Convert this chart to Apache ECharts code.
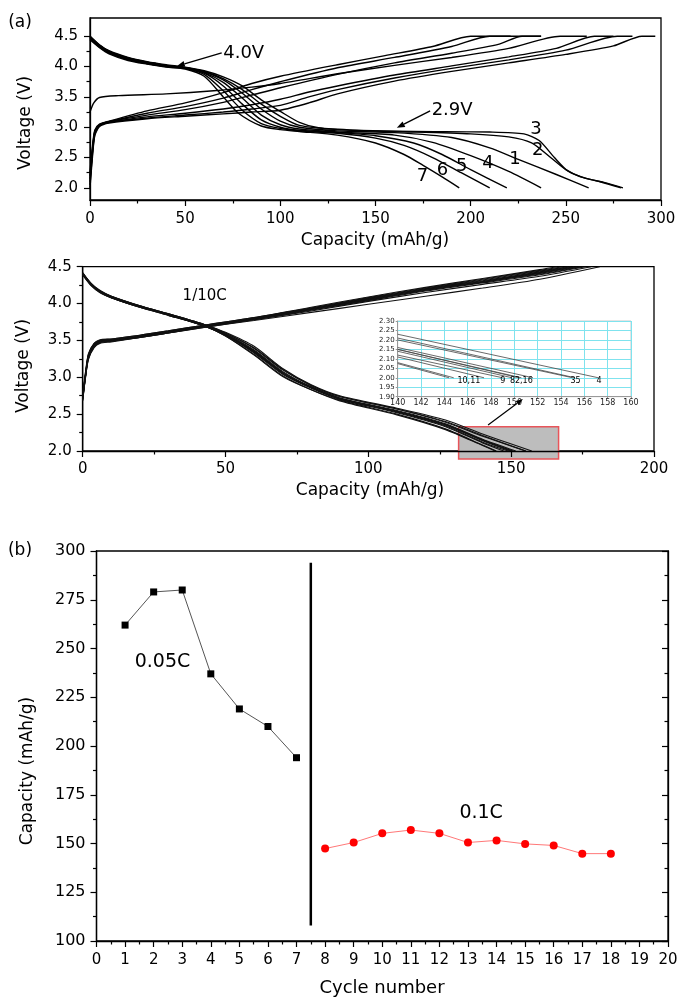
<!DOCTYPE html>
<html><head><meta charset="utf-8">
<script src="https://cdn.jsdelivr.net/npm/echarts@6/dist/echarts.min.js"></script>
<style>html,body{margin:0;padding:0;background:#fff}#c{width:678px;height:997px}</style>
</head><body><div id="c"></div>
<script>
// ---------- Panel (a) top: discharge curves, cycles 1-7 [capacity, voltage] ----------
const p1Dis1 = [[0,4.5],[5,4.35],[10,4.25],[20,4.14],[30,4.07],[40,4.02],[50,3.98],[60,3.91],[70,3.78],[80,3.56],[90,3.3],[100,3.1],[110,3.0],[130,2.94],[160,2.91],[190,2.83],[210,2.66],[225,2.47],[245,2.22],[262,2.0]];
const p1Dis2 = [[0,4.49],[5,4.35],[10,4.25],[20,4.14],[30,4.07],[40,4.02],[50,3.98],[60,3.92],[70,3.8],[80,3.62],[90,3.38],[100,3.18],[110,3.03],[130,2.96],[160,2.93],[200,2.89],[220,2.84],[232,2.74],[242,2.5],[250,2.3],[258,2.18],[268,2.1],[279,2.0]];
const p1Dis3 = [[0,4.5],[5,4.36],[10,4.26],[20,4.15],[30,4.08],[40,4.03],[50,3.99],[60,3.93],[70,3.83],[80,3.68],[90,3.45],[100,3.26],[110,3.08],[120,2.99],[140,2.95],[170,2.93],[210,2.92],[228,2.89],[236,2.78],[244,2.5],[251,2.28],[260,2.16],[270,2.09],[280,2.0]];
const p1Dis4 = [[0,4.48],[5,4.34],[10,4.24],[20,4.13],[30,4.06],[40,4.01],[50,3.98],[60,3.9],[70,3.74],[80,3.48],[90,3.2],[100,3.04],[110,2.97],[130,2.92],[160,2.87],[180,2.75],[200,2.53],[220,2.27],[237,2.0]];
const p1Dis5 = [[0,4.47],[5,4.33],[10,4.23],[20,4.12],[30,4.05],[40,4.0],[50,3.97],[60,3.89],[70,3.68],[80,3.38],[90,3.12],[100,3.0],[110,2.95],[130,2.91],[150,2.86],[170,2.74],[185,2.55],[200,2.3],[219,2.0]];
const p1Dis6 = [[0,4.46],[5,4.32],[10,4.22],[20,4.11],[30,4.05],[40,4.0],[50,3.97],[60,3.87],[70,3.6],[80,3.28],[90,3.06],[100,2.98],[110,2.94],[130,2.9],[150,2.82],[165,2.7],[180,2.5],[195,2.25],[210,2.0]];
const p1Dis7 = [[0,4.44],[5,4.31],[10,4.21],[20,4.1],[30,4.04],[40,3.99],[50,3.96],[60,3.84],[70,3.5],[78,3.23],[90,3.02],[100,2.96],[110,2.93],[130,2.87],[150,2.74],[165,2.55],[175,2.37],[185,2.18],[194,2.0]];
// ---------- Panel (a) top: charge curves ----------
const p1ChFirst = [[0,3.25],[2,3.4],[5,3.49],[15,3.52],[40,3.55],[65,3.6],[85,3.66],[100,3.72],[130,3.88],[160,4.02],[190,4.15],[220,4.3],[247,4.5],[261,4.5]];
const p1ChA = [[0,2.25],[1,2.6],[2.5,2.95],[5,3.05],[10,3.1],[30,3.27],[50,3.4],[70,3.57],[85,3.72],[100,3.84],[130,4.03],[155,4.18],[180,4.33],[200,4.5],[221,4.5]];
const p1ChB = [[0,2.2],[1,2.55],[2.5,2.93],[5,3.04],[10,3.09],[30,3.23],[50,3.34],[70,3.48],[85,3.62],[100,3.75],[130,3.98],[160,4.15],[190,4.33],[210,4.5],[237,4.5]];
const p1ChC = [[0,2.15],[1,2.5],[2.5,2.92],[5,3.04],[10,3.09],[30,3.2],[50,3.29],[70,3.41],[85,3.53],[100,3.65],[130,3.87],[160,4.06],[190,4.22],[215,4.37],[227,4.5],[237,4.5]];
const p1ChE = [[0,2.1],[1,2.5],[2.5,2.9],[5,3.03],[10,3.08],[30,3.17],[50,3.23],[70,3.3],[85,3.37],[100,3.46],[115,3.58],[130,3.68],[160,3.86],[190,4.01],[220,4.16],[245,4.3],[265,4.5],[275,4.5]];
const p1ChF = [[0,2.05],[1,2.45],[2.5,2.88],[5,3.02],[10,3.08],[30,3.15],[50,3.2],[70,3.25],[85,3.3],[100,3.36],[115,3.5],[130,3.62],[160,3.81],[190,3.97],[220,4.11],[250,4.27],[277,4.5],[285,4.5]];
const p1ChG = [[0,2.0],[1,2.4],[2.5,2.86],[5,3.01],[10,3.07],[30,3.14],[50,3.18],[70,3.22],[85,3.25],[100,3.28],[115,3.4],[130,3.55],[160,3.76],[190,3.92],[220,4.06],[250,4.2],[275,4.34],[290,4.5],[297,4.5]];
const p1VTicks = [2.0,2.5,3.0,3.5,4.0,4.5];
const p1VMinor = [2.25,2.75,3.25,3.75,4.25];

// ---------- Panel (a) bottom: 1/10C charge curves ----------
const p2Ch1 = [[0,2.78],[1,3.08],[2,3.32],[4,3.46],[6,3.51],[10,3.52],[20,3.57],[30,3.63],[43,3.71],[60,3.81],[80,3.95],[100,4.09],[120,4.22],[140,4.34],[160,4.46],[166,4.5]];
const p2Ch2 = [[0,2.76],[1,3.06],[2,3.31],[4,3.46],[6,3.5],[10,3.52],[20,3.57],[30,3.63],[43,3.71],[60,3.81],[80,3.94],[100,4.08],[120,4.21],[140,4.33],[160,4.45],[168,4.5]];
const p2Ch3 = [[0,2.74],[1,3.05],[2,3.3],[4,3.45],[6,3.5],[10,3.51],[20,3.56],[30,3.62],[43,3.7],[60,3.8],[80,3.94],[100,4.07],[120,4.2],[140,4.32],[160,4.44],[170,4.5]];
const p2Ch4 = [[0,2.75],[1,3.04],[2,3.29],[4,3.44],[6,3.49],[10,3.51],[20,3.56],[30,3.62],[43,3.7],[60,3.8],[80,3.93],[100,4.07],[120,4.2],[140,4.31],[160,4.43],[171,4.5]];
const p2Ch5 = [[0,2.73],[1,3.04],[2,3.28],[4,3.44],[6,3.49],[10,3.5],[20,3.55],[30,3.61],[43,3.7],[60,3.8],[80,3.93],[100,4.06],[120,4.19],[140,4.3],[160,4.42],[172,4.5]];
const p2Ch6 = [[0,2.72],[1,3.03],[2,3.28],[4,3.43],[6,3.49],[10,3.5],[20,3.55],[30,3.61],[43,3.69],[60,3.79],[80,3.92],[100,4.06],[120,4.19],[140,4.3],[160,4.42],[173,4.5]];
const p2Ch7 = [[0,2.71],[1,3.02],[2,3.27],[4,3.43],[6,3.48],[10,3.5],[20,3.55],[30,3.61],[43,3.69],[60,3.79],[80,3.92],[100,4.05],[120,4.18],[140,4.29],[160,4.41],[174,4.5]];
const p2Ch8 = [[0,2.7],[1,3.02],[2,3.27],[4,3.42],[6,3.48],[10,3.5],[20,3.55],[30,3.61],[43,3.69],[60,3.79],[80,3.92],[100,4.05],[120,4.18],[140,4.29],[160,4.4],[175,4.5]];
const p2Ch9 = [[0,2.7],[1,3.01],[2,3.26],[4,3.42],[6,3.47],[10,3.49],[20,3.54],[30,3.6],[43,3.69],[60,3.78],[80,3.91],[100,4.04],[120,4.17],[140,4.28],[160,4.39],[176,4.5]];
const p2Ch10 = [[0,2.69],[1,3.0],[2,3.25],[4,3.41],[6,3.47],[10,3.49],[20,3.54],[30,3.6],[43,3.68],[60,3.78],[80,3.9],[100,4.03],[120,4.15],[140,4.26],[160,4.37],[178,4.5]];
const p2Ch11 = [[0,2.68],[1,3.0],[2,3.24],[4,3.4],[6,3.46],[10,3.48],[20,3.54],[30,3.6],[43,3.68],[60,3.77],[80,3.88],[100,3.99],[120,4.1],[140,4.21],[160,4.33],[181,4.5]];
// ---------- Panel (a) bottom: 1/10C discharge curves ----------
const p2Dis1 = [[0,4.4],[3,4.26],[6,4.16],[10,4.09],[20,3.96],[30,3.85],[43,3.69],[50,3.57],[60,3.33],[70,3.04],[80,2.85],[90,2.7],[110,2.52],[127,2.33],[140,2.11],[147.4,2.0]];
const p2Dis2 = [[0,4.41],[3,4.26],[6,4.17],[10,4.09],[20,3.96],[30,3.85],[43,3.7],[50,3.58],[60,3.35],[70,3.06],[80,2.86],[90,2.71],[110,2.54],[127,2.36],[140,2.15],[150.6,2.0]];
const p2Dis3 = [[0,4.41],[3,4.27],[6,4.17],[10,4.1],[20,3.97],[30,3.86],[43,3.71],[50,3.6],[60,3.39],[70,3.1],[80,2.89],[90,2.74],[110,2.57],[127,2.4],[140,2.21],[155.2,2.0]];
const p2Dis4 = [[0,4.42],[3,4.27],[6,4.18],[10,4.1],[20,3.97],[30,3.86],[43,3.71],[50,3.61],[60,3.42],[70,3.12],[80,2.9],[90,2.75],[110,2.58],[127,2.42],[140,2.23],[157.2,2.0]];
const p2Dis5 = [[0,4.41],[3,4.27],[6,4.17],[10,4.1],[20,3.97],[30,3.86],[43,3.71],[50,3.6],[60,3.4],[70,3.11],[80,2.89],[90,2.74],[110,2.57],[127,2.39],[140,2.2],[155.0,2.0]];
const p2Dis6 = [[0,4.4],[3,4.26],[6,4.16],[10,4.09],[20,3.96],[30,3.85],[43,3.7],[50,3.58],[60,3.36],[70,3.07],[80,2.87],[90,2.72],[110,2.54],[127,2.36],[140,2.15],[150.4,2.0]];
const p2Dis7 = [[0,4.41],[3,4.26],[6,4.17],[10,4.09],[20,3.96],[30,3.85],[43,3.7],[50,3.59],[60,3.37],[70,3.08],[80,2.87],[90,2.72],[110,2.55],[127,2.37],[140,2.16],[151.6,2.0]];
const p2Dis8 = [[0,4.4],[3,4.25],[6,4.16],[10,4.08],[20,3.96],[30,3.85],[43,3.7],[50,3.58],[60,3.35],[70,3.06],[80,2.86],[90,2.71],[110,2.53],[127,2.35],[140,2.14],[149.8,2.0]];
const p2Dis9 = [[0,4.4],[3,4.25],[6,4.16],[10,4.08],[20,3.95],[30,3.85],[43,3.69],[50,3.57],[60,3.34],[70,3.05],[80,2.86],[90,2.71],[110,2.53],[127,2.34],[140,2.12],[149.0,2.0]];
const p2Dis10 = [[0,4.39],[3,4.25],[6,4.15],[10,4.08],[20,3.95],[30,3.84],[43,3.69],[50,3.56],[60,3.3],[70,3.01],[80,2.83],[90,2.69],[110,2.5],[127,2.3],[140,2.08],[144.8,2.0]];
const p2Dis11 = [[0,4.39],[3,4.24],[6,4.15],[10,4.08],[20,3.95],[30,3.84],[43,3.69],[50,3.56],[60,3.31],[70,3.02],[80,2.83],[90,2.68],[110,2.49],[127,2.29],[140,2.075],[144.4,2.0]];

// ---------- Inset: end of discharge, labelled 1..11 ----------
const ins1 = [[140,2.11],[147.4,2.0]];
const ins2 = [[140,2.15],[150.6,2.0]];
const ins3 = [[140,2.21],[155.2,2.0]];
const ins4 = [[140,2.23],[157.2,2.0]];
const ins5 = [[140,2.2],[155.0,2.0]];
const ins6 = [[140,2.15],[150.4,2.0]];
const ins7 = [[140,2.16],[151.6,2.0]];
const ins8 = [[140,2.14],[149.8,2.0]];
const ins9 = [[140,2.12],[149.0,2.0]];
const ins10 = [[140,2.08],[144.8,2.0]];
const ins11 = [[140,2.075],[144.4,2.0]];
const insetLabels = ['10,11','9','82,16','35','4'];
const insetLabelX = [146.1,149.0,150.6,155.25,157.25];
const insetLabelY = [1.983,1.983,1.983,1.983,1.983];

// ---------- Panel (b): capacity vs cycle ----------
const cycles005 = [1,2,3,4,5,6,7];
const cap005 = [262,279,280,237,219,210,194];
const cycles01 = [8,9,10,11,12,13,14,15,16,17,18];
const cap01 = [147.4,150.5,155.2,156.9,155.2,150.5,151.6,149.8,149.0,144.8,144.8];
const dividerX = [7.5,7.5];
const dividerY = [108,294];

// ---------- curve labels ----------
const p1CurveLabels = ['3','2','1','4','5','6','7'];
const p1CurveLabelX = [234.3,235.2,223.3,209.1,195.3,185.2,174.7];
const p1CurveLabelY = [2.97,2.62,2.475,2.41,2.36,2.295,2.19];

const FONT = '"DejaVu Sans", sans-serif';
const K = '#000';
const axLine = {show:true, lineStyle:{color:K, width:1.3}};
const tickSt = {color:K, width:1.2};

function curve(xi, yi, data, w, color, smooth) {
  return {type:'line', xAxisIndex:xi, yAxisIndex:yi, data:data, showSymbol:false, symbol:'none',
    smooth: smooth === false ? false : 0.25, lineStyle:{color:color, width:w},
    silent:true, clip:true, z:2, animation:false};
}

const series = [];
[p1Dis1,p1Dis2,p1Dis3,p1Dis4,p1Dis5,p1Dis6,p1Dis7,p1ChFirst,p1ChA,p1ChB,p1ChC,p1ChE,p1ChF,p1ChG]
  .forEach(d => series.push(curve(0,0,d,1.4,'#000')));
[p2Ch1,p2Ch2,p2Ch3,p2Ch4,p2Ch5,p2Ch6,p2Ch7,p2Ch8,p2Ch9,p2Ch10,p2Ch11,
 p2Dis1,p2Dis2,p2Dis3,p2Dis4,p2Dis5,p2Dis6,p2Dis7,p2Dis8,p2Dis9,p2Dis10,p2Dis11]
  .forEach(d => series.push(curve(1,2,d,1.1,'#111')));
[ins1,ins2,ins3,ins4,ins5,ins6,ins7,ins8,ins9,ins10,ins11]
  .forEach(d => series.push(curve(2,3,d,0.8,'#444',false)));
series.push({type:'line', xAxisIndex:3, yAxisIndex:4, data:cycles005.map((c,i)=>[c,cap005[i]]),
  symbol:'rect', symbolSize:7, itemStyle:{color:'#000'}, lineStyle:{color:'#555', width:1}, z:3});
series.push({type:'line', xAxisIndex:3, yAxisIndex:4, data:cycles01.map((c,i)=>[c,cap01[i]]),
  symbol:'circle', symbolSize:8, itemStyle:{color:'#ff0000'}, lineStyle:{color:'#ff7878', width:1}, z:3});
series.push({type:'line', xAxisIndex:3, yAxisIndex:4, data:dividerX.map((c,i)=>[c,dividerY[i]]),
  symbol:'none', lineStyle:{color:'#000', width:2.5}, z:3});

const noSplit = {show:false};
const option = {
  animation:false,
  backgroundColor:'#fff',
  grid:[
    {left:90, top:18, width:571, height:182, show:true, borderColor:K, borderWidth:1.3, backgroundColor:'transparent', containLabel:false, outerBoundsMode:'none'},
    {left:82.7, top:266.7, width:571.3, height:184.3, show:true, borderColor:K, borderWidth:1.3, backgroundColor:'transparent', containLabel:false, outerBoundsMode:'none'},
    {left:397.7, top:321, width:233.3, height:75.7, show:true, borderColor:'#c8c8c8', borderWidth:1, backgroundColor:'#fff', containLabel:false, outerBoundsMode:'none'},
    {left:96.5, top:551, width:571.5, height:390, show:true, borderColor:K, borderWidth:1.3, backgroundColor:'transparent', containLabel:false, outerBoundsMode:'none'}
  ],
  xAxis:[
    {gridIndex:0, type:'value', min:0, max:300, interval:50, axisLine:axLine,
     axisTick:{show:true, length:6, lineStyle:tickSt}, minorTick:{show:true, splitNumber:2, length:3.5, lineStyle:tickSt},
     splitLine:noSplit, minorSplitLine:noSplit, axisLabel:{fontSize:15, fontFamily:FONT, color:K, margin:12}},
    {gridIndex:1, type:'value', min:0, max:200, interval:50, axisLine:axLine, z:5,
     axisTick:{show:true, length:6, lineStyle:tickSt}, minorTick:{show:true, splitNumber:2, length:3.5, lineStyle:tickSt},
     splitLine:noSplit, minorSplitLine:noSplit, axisLabel:{fontSize:15, fontFamily:FONT, color:K, margin:11}},
    {gridIndex:2, type:'value', min:140, max:160, interval:2, axisLine:{show:true, lineStyle:{color:'#999', width:1}},
     axisTick:{show:true, length:2, lineStyle:{color:'#999'}}, splitLine:{show:true, lineStyle:{color:'#7fe3ee', width:1}},
     axisLabel:{fontSize:8, fontFamily:FONT, color:'#222', margin:2}},
    {gridIndex:3, type:'value', min:0, max:20, interval:1, axisLine:axLine,
     axisTick:{show:true, length:6, lineStyle:tickSt}, minorTick:{show:true, splitNumber:2, length:3.5, lineStyle:tickSt},
     splitLine:noSplit, minorSplitLine:noSplit, axisLabel:{fontSize:15, fontFamily:FONT, color:K, margin:12}}
  ],
  yAxis:[
    {gridIndex:0, type:'value', min:1.8, max:4.8, position:'left', axisLine:axLine,
     axisTick:{show:true, length:6, lineStyle:tickSt, customValues:p1VTicks},
     splitLine:noSplit, axisLabel:{customValues:p1VTicks, formatter:v=>v.toFixed(1), fontSize:15, fontFamily:FONT, color:K, margin:12}},
    {gridIndex:0, type:'value', min:1.8, max:4.8, position:'left', offset:0, axisLine:{show:false},
     axisTick:{show:true, length:3.5, lineStyle:tickSt, customValues:p1VMinor},
     splitLine:noSplit, axisLabel:{show:false}},
    {gridIndex:1, type:'value', min:2.0, max:4.5, interval:0.5, axisLine:axLine,
     axisTick:{show:true, length:6, lineStyle:tickSt}, minorTick:{show:true, splitNumber:2, length:3.5, lineStyle:tickSt},
     splitLine:noSplit, minorSplitLine:noSplit, axisLabel:{formatter:v=>v.toFixed(1), fontSize:15, fontFamily:FONT, color:K, margin:11}},
    {gridIndex:2, type:'value', min:1.9, max:2.3, interval:0.05, axisLine:{show:true, lineStyle:{color:'#999', width:1}},
     axisTick:{show:true, length:2, lineStyle:{color:'#999'}}, splitLine:{show:true, lineStyle:{color:'#7fe3ee', width:1}},
     axisLabel:{formatter:v=>v.toFixed(2), fontSize:7, fontFamily:FONT, color:'#222', margin:3}},
    {gridIndex:3, type:'value', min:100, max:300, interval:25, position:'left', axisLine:axLine,
     axisTick:{show:true, length:6, lineStyle:tickSt}, minorTick:{show:true, splitNumber:2, length:3.5, lineStyle:tickSt},
     splitLine:noSplit, minorSplitLine:noSplit, axisLabel:{fontSize:16, fontFamily:FONT, color:K, margin:11}},
    {gridIndex:3, type:'value', min:100, max:300, interval:25, position:'right', axisLine:axLine,
     axisTick:{show:true, inside:true, length:6, lineStyle:tickSt}, minorTick:{show:true, splitNumber:2, length:3.5, lineStyle:tickSt},
     splitLine:noSplit, minorSplitLine:noSplit, axisLabel:{show:false}}
  ],
  series:series
};

const chart = echarts.init(document.getElementById('c'), null, {renderer:'canvas'});
chart.setOption(option);

function P(gi, pt){ return chart.convertToPixel({gridIndex:gi}, pt); }
function txt(x, y, s, size, rot, extra){
  return Object.assign({type:'text', x:x, y:y, rotation:rot||0, z:100,
    style:{text:s, x:0, y:0, font:size+'px '+FONT, fill:'#000', align:'center', verticalAlign:'middle',
      textAlign:'center', textVerticalAlign:'middle'}}, extra||{});
}
function arrow(p0, p1, w, head){
  const dx=p1[0]-p0[0], dy=p1[1]-p0[1], L=Math.hypot(dx,dy), ux=dx/L, uy=dy/L;
  const hb=[p1[0]-ux*head, p1[1]-uy*head], nx=-uy, ny=ux, hw=head*0.38;
  return [
    {type:'line', z:100, shape:{x1:p0[0], y1:p0[1], x2:hb[0], y2:hb[1]}, style:{stroke:'#000', lineWidth:w}},
    {type:'polygon', z:100, shape:{points:[p1,[hb[0]+nx*hw, hb[1]+ny*hw],[hb[0]-nx*hw, hb[1]-ny*hw]]}, style:{fill:'#000'}}
  ];
}

const g = [];
// panel labels and axis titles
g.push(txt(20, 23, '(a)', 17));
g.push(txt(20, 551, '(b)', 17));
g.push(txt(375, 241, 'Capacity (mAh/g)', 17));
g.push(txt(26, 123, 'Voltage (V)', 17, Math.PI/2));
g.push(txt(370, 491, 'Capacity (mAh/g)', 17));
g.push(txt(24, 366, 'Voltage (V)', 17, Math.PI/2));
g.push(txt(382, 988, 'Cycle number', 18));
g.push(txt(28, 771, 'Capacity (mAh/g)', 17, Math.PI/2));

// panel (a) top annotations
let a = P(0,[69.2,4.225]), b = P(0,[45.6,4.005]);
g.push(...arrow(a, b, 1.4, 8));
let t = P(0,[69.2,4.225]);
g.push(txt(t[0]+22, t[1], '4.0V', 18));
a = P(0,[178.7,3.27]); b = P(0,[161.2,2.99]);
g.push(...arrow(a, b, 1.4, 8));
g.push(txt(a[0]+22, a[1], '2.9V', 18));
p1CurveLabels.forEach((s,i)=>{ const p=P(0,[p1CurveLabelX[i], p1CurveLabelY[i]]); g.push(txt(p[0], p[1], s, 18)); });

// panel (a) bottom annotations
t = P(1,[42.7,4.10]);
g.push(txt(t[0], t[1], '1/10C', 15));
const r0 = P(1,[131.6,2.33]), r1 = P(1,[166.6,1.89]);
g.push({type:'rect', z:1, shape:{x:r0[0], y:r0[1], width:r1[0]-r0[0], height:r1[1]-r0[1]},
  style:{fill:'#bdbdbd', stroke:'#e8555a', lineWidth:1.5}});
a = P(1,[141.9,2.353]); b = P(1,[154.1,2.705]);
g.push(...arrow(a, b, 1.2, 7));
insetLabels.forEach((s,i)=>{ const p=P(2,[insetLabelX[i], insetLabelY[i]]); g.push(txt(p[0], p[1], s, 8, 0, {})); });

// panel (b) annotations
t = P(3,[2.31,243.1]);
g.push(txt(t[0], t[1], '0.05C', 19));
t = P(3,[13.46,165.6]);
g.push(txt(t[0], t[1], '0.1C', 19));

chart.setOption({graphic:{elements:g}});
</script></body></html>
